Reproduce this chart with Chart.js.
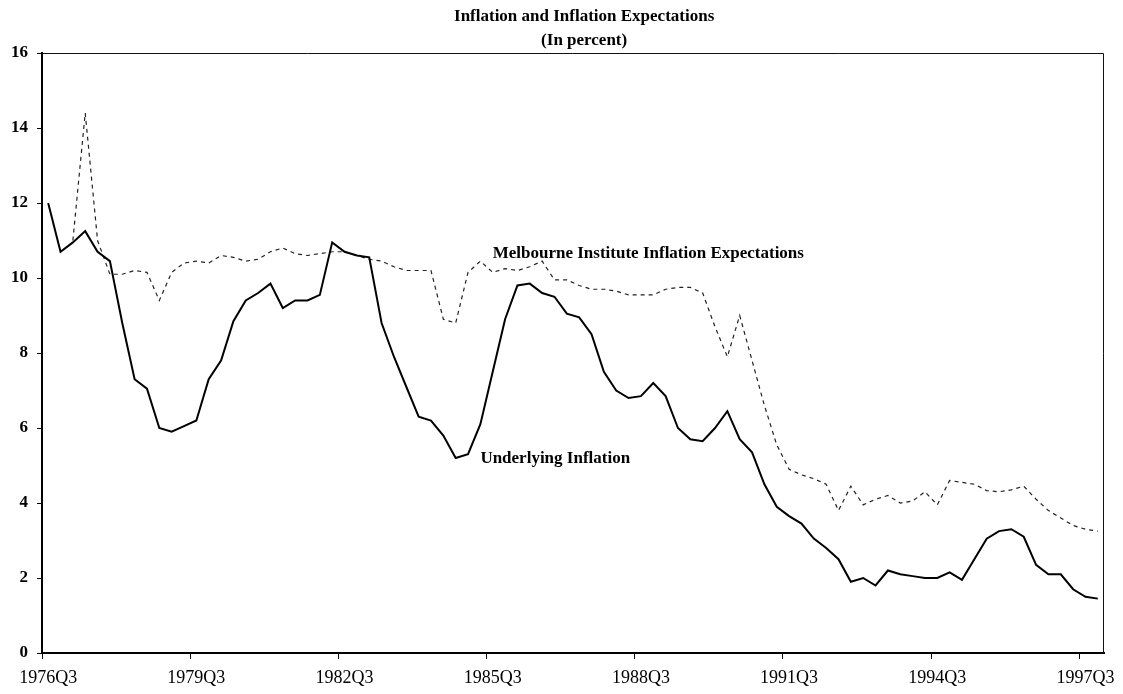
<!DOCTYPE html>
<html><head><meta charset="utf-8">
<script src="https://cdn.jsdelivr.net/npm/chart.js@4.4.1/dist/chart.umd.min.js"></script>
<style>html,body{margin:0;padding:0;background:#fff;} #wrap{width:1123px;height:694px;position:relative;}</style>
</head><body><div id="wrap"><canvas id="c"></canvas></div>
<script>
const quarters = [
 '1976Q3','1976Q4','1977Q1','1977Q2','1977Q3','1977Q4','1978Q1','1978Q2','1978Q3','1978Q4',
 '1979Q1','1979Q2','1979Q3','1979Q4','1980Q1','1980Q2','1980Q3','1980Q4','1981Q1','1981Q2',
 '1981Q3','1981Q4','1982Q1','1982Q2','1982Q3','1982Q4','1983Q1','1983Q2','1983Q3','1983Q4',
 '1984Q1','1984Q2','1984Q3','1984Q4','1985Q1','1985Q2','1985Q3','1985Q4','1986Q1','1986Q2',
 '1986Q3','1986Q4','1987Q1','1987Q2','1987Q3','1987Q4','1988Q1','1988Q2','1988Q3','1988Q4',
 '1989Q1','1989Q2','1989Q3','1989Q4','1990Q1','1990Q2','1990Q3','1990Q4','1991Q1','1991Q2',
 '1991Q3','1991Q4','1992Q1','1992Q2','1992Q3','1992Q4','1993Q1','1993Q2','1993Q3','1993Q4',
 '1994Q1','1994Q2','1994Q3','1994Q4','1995Q1','1995Q2','1995Q3','1995Q4','1996Q1','1996Q2',
 '1996Q3','1996Q4','1997Q1','1997Q2','1997Q3','1997Q4'
];
const underlying = [
 12.0,10.7,10.95,11.25,10.7,10.45,8.8,7.3,7.05,6.0,
 5.9,6.05,6.2,7.3,7.8,8.85,9.4,9.6,9.85,9.2,
 9.4,9.4,9.55,10.95,10.7,10.6,10.55,8.8,7.9,7.1,
 6.3,6.2,5.8,5.2,5.3,6.1,7.5,8.9,9.8,9.85,
 9.6,9.5,9.05,8.95,8.5,7.5,7.0,6.8,6.85,7.2,
 6.85,6.0,5.7,5.65,6.0,6.45,5.7,5.35,4.5,3.9,
 3.65,3.45,3.05,2.8,2.5,1.9,2.0,1.8,2.2,2.1,
 2.05,2.0,2.0,2.15,1.95,2.5,3.05,3.25,3.3,3.1,
 2.35,2.1,2.1,1.7,1.5,1.45
];
const expectations = [
 null,null,11.0,14.4,11.0,10.1,10.1,10.2,10.15,9.4,
 10.15,10.4,10.45,10.4,10.6,10.55,10.45,10.5,10.7,10.8,
 10.65,10.6,10.65,10.7,10.7,10.6,10.5,10.45,10.3,10.2,
 10.2,10.2,8.9,8.8,10.15,10.45,10.15,10.25,10.2,10.3,
 10.45,9.95,9.95,9.8,9.7,9.7,9.65,9.55,9.55,9.55,
 9.7,9.75,9.75,9.6,8.7,7.9,9.0,7.8,6.6,5.55,
 4.9,4.75,4.65,4.5,3.8,4.45,3.95,4.1,4.2,4.0,
 4.05,4.3,3.95,4.6,4.55,4.5,4.33,4.3,4.35,4.45,
 4.1,3.8,3.6,3.4,3.3,3.25
];
const yRange = [0, 16];
const yStep = 2;
const xLabelEvery = 12;
const titleLines = ['Inflation and Inflation Expectations', '(In percent)'];
const seriesNames = ['Underlying Inflation', 'Melbourne Institute Inflation Expectations'];
// label anchors in data space: [category index, value]
const labelAnchors = [[35, 5.06], [36, 10.53]];

const SERIF = '"Liberation Serif", "Times New Roman", serif';

const decor = {
  id: 'decor',
  afterDraw(chart) {
    const {ctx, chartArea: a, scales} = chart;
    const x = scales.x, y = scales.y;
    ctx.save();
    ctx.strokeStyle = '#111';
    ctx.lineWidth = 1;
    ctx.beginPath();
    ctx.moveTo(a.left, a.top + 0.5);
    ctx.lineTo(a.right - 0.5, a.top + 0.5);
    ctx.lineTo(a.right - 0.5, a.bottom);
    ctx.stroke();
    ctx.fillStyle = '#000';
    ctx.font = 'bold 17px ' + SERIF;
    ctx.textAlign = 'center';
    ctx.textBaseline = 'alphabetic';
    const cx = a.left + (a.right - a.left) * 0.5105;
    ctx.fillText(titleLines[0], cx, a.top - 32);
    ctx.fillText(titleLines[1], cx, a.top - 8);
    ctx.textAlign = 'left';
    seriesNames.forEach((name, k) => {
      const [ci, v] = labelAnchors[k];
      ctx.fillText(name, x.getPixelForValue(ci), y.getPixelForValue(v));
    });
    ctx.restore();
  }
};

new Chart(document.getElementById('c'), {
  type: 'line',
  data: {
    labels: quarters,
    datasets: [
      {label: seriesNames[0], data: underlying, borderColor: '#000', borderWidth: 2,
       pointRadius: 0, tension: 0, fill: false},
      {label: seriesNames[1], data: expectations, borderColor: '#222', borderWidth: 1.2,
       borderDash: [4, 4], pointRadius: 0, tension: 0, fill: false, spanGaps: false}
    ]
  },
  options: {
    responsive: true,
    maintainAspectRatio: false,
    animation: false,
    devicePixelRatio: 1,
    layout: {padding: {left: 0, right: 19, top: 53, bottom: 0}},
    plugins: {legend: {display: false}, title: {display: false}, tooltip: {enabled: false}},
    scales: {
      x: {
        type: 'category',
        offset: true,
        afterFit: s => { s.height = 41; },
        grid: {
          offset: true, drawOnChartArea: false, drawTicks: true, tickLength: 6, lineWidth: 1,
          color: c => (c.index % xLabelEvery === 0 ? '#000' : 'rgba(0,0,0,0)')
        },
        border: {display: true, color: '#000', width: 2},
        ticks: {
          autoSkip: false, maxRotation: 0, minRotation: 0, padding: 8, color: '#000',
          font: {family: SERIF, size: 18},
          callback: (v, i) => (i % xLabelEvery === 0 ? quarters[i] : '')
        }
      },
      y: {
        min: yRange[0], max: yRange[1],
        afterFit: s => { s.width = 42; },
        grid: {drawOnChartArea: false, drawTicks: true, tickLength: 5, color: '#000', lineWidth: 1},
        border: {display: true, color: '#000', width: 2},
        ticks: {stepSize: yStep, padding: 9, color: '#000', font: {family: SERIF, size: 17, weight: 'bold'}}
      }
    }
  },
  plugins: [decor]
});
</script>
</body></html>
